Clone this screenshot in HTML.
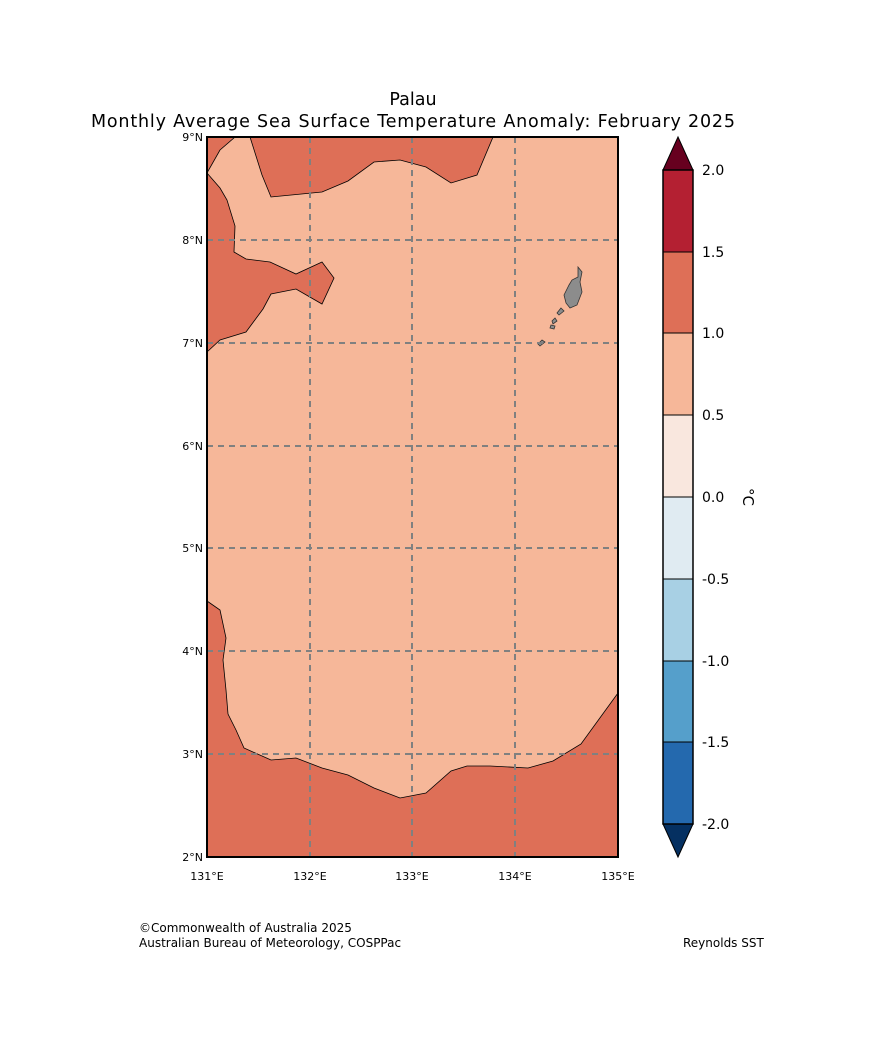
<!DOCTYPE html>
<html><head><meta charset="utf-8"><style>
body{margin:0;background:#fff;}
svg text{font-family:"DejaVu Sans","Liberation Sans",sans-serif;}
</style></head><body>
<svg width="869" height="1052" xmlns="http://www.w3.org/2000/svg">
<text x="413" y="105" font-size="17.5" text-anchor="middle">Palau</text>
<text x="413" y="127" font-size="17.5" text-anchor="middle" textLength="644">Monthly Average Sea Surface Temperature Anomaly: February 2025</text>
<g>
<rect x="207" y="137" width="411" height="720" fill="#f6b799"/>
<g fill="#de6f57" stroke="#000" stroke-width="0.8">
<path d="M207,137 L235,137 L220,150 L207,173 Z"/>
<path d="M250,137 L262,175 L271,197 L322,192 L348,181 L374,162 L400,160 L426,167 L451,183 L477,175 L493,137 Z"/>
<path d="M207,173 L220,188 L227,200 L235,226 L234,252 L246,259 L270,262 L296,274 L322,262 L334,278 L322,304 L296,289 L271,294 L263,309 L246,332 L220,340 L207,352 Z"/>
<path d="M207,601 L220,610 L226,638 L223,660 L226,690 L228,714 L236,730 L244,748 L271,760 L296,758 L322,768 L348,775 L374,788 L400,798 L426,793 L451,771 L467,766 L490,766 L528,768 L553,761 L581,744 L618,693 L618,857 L207,857 Z"/>
</g>
<g fill="#8c8c8c" stroke="#333" stroke-width="0.8">
<path d="M578,267 L582,272 L580,282 L582,292 L577,305 L570,308 L566,303 L564,295 L569,285 L572,280 L578,277 Z"/>
<path d="M561,308 L564,311 L559,315 L557,313 Z"/>
<path d="M555,318 L557,321 L553,324 L552,321 Z"/>
<path d="M551,325 L555,326 L554,329 L550,328 Z"/>
<path d="M542,340 L545,342 L540,346 L538,344 Z"/>
</g>
<g stroke="#808080" stroke-width="2" stroke-dasharray="6,5">
<line x1="310" y1="137" x2="310" y2="857"/><line x1="412" y1="137" x2="412" y2="857"/><line x1="515" y1="137" x2="515" y2="857"/>
<line x1="207" y1="240" x2="618" y2="240"/><line x1="207" y1="343" x2="618" y2="343"/><line x1="207" y1="446" x2="618" y2="446"/><line x1="207" y1="548" x2="618" y2="548"/><line x1="207" y1="651" x2="618" y2="651"/><line x1="207" y1="754" x2="618" y2="754"/>
</g>
<rect x="207" y="137" width="411" height="720" fill="none" stroke="#000" stroke-width="2"/>
</g>
<g font-size="11" text-anchor="end">
<text x="203" y="141">9°N</text><text x="203" y="244">8°N</text><text x="203" y="347">7°N</text><text x="203" y="450">6°N</text><text x="203" y="552">5°N</text><text x="203" y="655">4°N</text><text x="203" y="758">3°N</text><text x="203" y="861">2°N</text>
</g>
<g font-size="11" text-anchor="middle">
<text x="207" y="880">131°E</text><text x="310" y="880">132°E</text><text x="412" y="880">133°E</text><text x="515" y="880">134°E</text><text x="618" y="880">135°E</text>
</g>
<g stroke="#000" stroke-width="1">
<polygon points="663,170 678,137 693,170" fill="#67001f"/>
<rect x="663" y="170" width="30" height="82" fill="#b42032"/>
<rect x="663" y="252" width="30" height="81" fill="#de6f57"/>
<rect x="663" y="333" width="30" height="82" fill="#f6b799"/>
<rect x="663" y="415" width="30" height="82" fill="#f9e7de"/>
<rect x="663" y="497" width="30" height="82" fill="#e0ebf2"/>
<rect x="663" y="579" width="30" height="82" fill="#a8d0e4"/>
<rect x="663" y="661" width="30" height="81" fill="#559fcb"/>
<rect x="663" y="742" width="30" height="82" fill="#2469ae"/>
<polygon points="663,824 678,857 693,824" fill="#053061"/>
<rect x="663" y="170" width="30" height="654" fill="none" stroke-width="1.5"/>
</g>
<g font-size="14">
<text x="702" y="175">2.0</text><text x="702" y="257">1.5</text><text x="702" y="338">1.0</text><text x="702" y="420">0.5</text><text x="702" y="502">0.0</text><text x="702" y="584">-0.5</text><text x="702" y="666">-1.0</text><text x="702" y="747">-1.5</text><text x="702" y="829">-2.0</text>
</g>
<text x="743" y="497" font-size="15" transform="rotate(90 743 497)" text-anchor="middle">°C</text>
<g font-size="12">
<text x="139" y="932">©Commonwealth of Australia 2025</text>
<text x="139" y="947">Australian Bureau of Meteorology, COSPPac</text>
<text x="683" y="947">Reynolds SST</text>
</g>
</svg>
</body></html>
